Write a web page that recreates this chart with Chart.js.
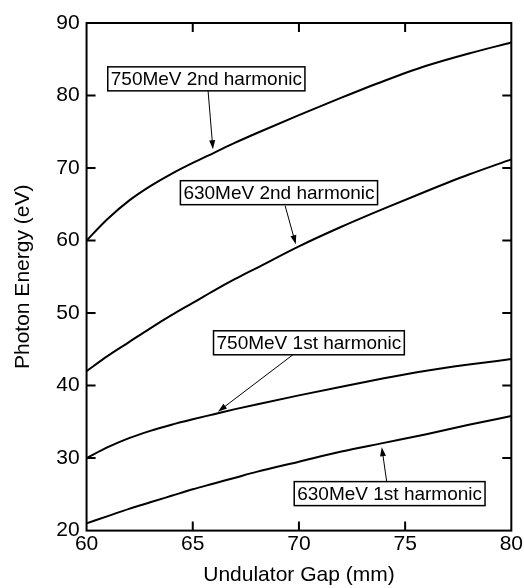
<!DOCTYPE html>
<html>
<head>
<meta charset="utf-8">
<script src="https://cdn.jsdelivr.net/npm/chart.js@4.4.0/dist/chart.umd.min.js"></script>
<style>
    html, body { margin: 0; padding: 0; background: #ffffff; }
    #wrap { width: 524px; height: 588px; }
</style>
</head>
<body>
<div id="wrap"><canvas id="chart" width="524" height="588"></canvas></div>
<script>
// undulator gap (mm)
const gaps = [60, 61, 62, 63, 64, 65, 66, 67, 68, 70, 72, 74, 76, 78, 80];
// photon energy (eV)
const e750h2 = [60.0, 63.0, 65.5, 67.5, 69.2, 70.7, 72.1, 73.5, 74.8, 77.3, 79.7, 82.0, 84.1, 85.8, 87.3];
const e630h2 = [42.0, 44.1, 46.0, 47.9, 49.7, 51.4, 53.1, 54.7, 56.2, 59.2, 61.9, 64.4, 66.8, 69.1, 71.2];
const e750h1 = [30.0, 31.5, 32.75, 33.75, 34.6, 35.35, 36.05, 36.75, 37.4, 38.65, 39.85, 41.0, 42.05, 42.9, 43.65];
const e630h1 = [21.0, 22.0, 23.0, 23.9, 24.8, 25.7, 26.5, 27.3, 28.1, 29.5, 30.9, 32.1, 33.3, 34.6, 35.8];

const seriesNames = ['750MeV 2nd harmonic', '630MeV 2nd harmonic', '750MeV 1st harmonic', '630MeV 1st harmonic'];
const xTicks = [60, 65, 70, 75, 80];
const yTicks = [20, 30, 40, 50, 60, 70, 80, 90];

// callout boxes: centre of box, arrow start, arrow tip (all in data units)
const callouts = [
    { text: seriesNames[0], box: [65.64, 82.3], from: [65.72, 80.7], tip: [65.95, 72.6] },
    { text: seriesNames[1], box: [69.06, 66.6], from: [69.35, 64.8], tip: [69.85, 59.5] },
    { text: seriesNames[2], box: [70.47, 45.9], from: [69.74, 44.3], tip: [66.19, 36.4] },
    { text: seriesNames[3], box: [74.27, 25.1], from: [74.13, 26.8], tip: [73.90, 31.5] }
];

const FONT = '"Liberation Sans", Arial, Helvetica, sans-serif';

function toPoints(ys) {
    return gaps.map((g, i) => ({ x: g, y: ys[i] }));
}

function drawArrow(ctx, x1, y1, x2, y2) {
    const ang = Math.atan2(y2 - y1, x2 - x1);
    const len = 9, half = 3;
    ctx.beginPath();
    ctx.moveTo(x1, y1);
    ctx.lineTo(x2 - Math.cos(ang) * len * 0.6, y2 - Math.sin(ang) * len * 0.6);
    ctx.stroke();
    ctx.beginPath();
    ctx.moveTo(x2, y2);
    ctx.lineTo(x2 - Math.cos(ang) * len - Math.sin(ang) * half, y2 - Math.sin(ang) * len + Math.cos(ang) * half);
    ctx.lineTo(x2 - Math.cos(ang) * len + Math.sin(ang) * half, y2 - Math.sin(ang) * len - Math.cos(ang) * half);
    ctx.closePath();
    ctx.fill();
}

const frameAndLabels = {
    id: 'frameAndLabels',
    afterDatasetsDraw(chart) {
        const ctx = chart.ctx;
        const area = chart.chartArea;
        const xs = chart.scales.x;
        const ys = chart.scales.y;
        ctx.save();

        // frame
        ctx.strokeStyle = '#000';
        ctx.lineWidth = 2;
        ctx.strokeRect(area.left, area.top, area.right - area.left, area.bottom - area.top);

        // inward ticks on all four sides
        const tl = 9;
        ctx.beginPath();
        xTicks.slice(1, -1).forEach(v => {
            const px = xs.getPixelForValue(v);
            ctx.moveTo(px, area.bottom); ctx.lineTo(px, area.bottom - tl);
            ctx.moveTo(px, area.top); ctx.lineTo(px, area.top + tl);
        });
        yTicks.slice(1, -1).forEach(v => {
            const py = ys.getPixelForValue(v);
            ctx.moveTo(area.left, py); ctx.lineTo(area.left + tl, py);
            ctx.moveTo(area.right, py); ctx.lineTo(area.right - tl, py);
        });
        ctx.stroke();

        // callouts
        ctx.font = '19px ' + FONT;
        ctx.textBaseline = 'middle';
        ctx.textAlign = 'center';
        callouts.forEach(c => {
            ctx.lineWidth = 1;
            ctx.fillStyle = '#000';
            drawArrow(ctx,
                xs.getPixelForValue(c.from[0]), ys.getPixelForValue(c.from[1]),
                xs.getPixelForValue(c.tip[0]), ys.getPixelForValue(c.tip[1]));

            const cx = xs.getPixelForValue(c.box[0]);
            const cy = ys.getPixelForValue(c.box[1]);
            const w = ctx.measureText(c.text).width + 6;
            const h = 24;
            ctx.fillStyle = '#fff';
            ctx.fillRect(cx - w / 2, cy - h / 2, w, h);
            ctx.lineWidth = 1.5;
            ctx.strokeRect(cx - w / 2, cy - h / 2, w, h);
            ctx.fillStyle = '#000';
            ctx.fillText(c.text, cx, cy + 1);
        });
        ctx.restore();
    }
};

const lineStyle = {
    borderColor: '#000',
    borderWidth: 2,
    pointRadius: 0,
    fill: false,
    cubicInterpolationMode: 'monotone'
};

new Chart(document.getElementById('chart').getContext('2d'), {
    type: 'line',
    data: {
        datasets: [
            { label: seriesNames[0], data: toPoints(e750h2), ...lineStyle },
            { label: seriesNames[1], data: toPoints(e630h2), ...lineStyle },
            { label: seriesNames[2], data: toPoints(e750h1), ...lineStyle },
            { label: seriesNames[3], data: toPoints(e630h1), ...lineStyle }
        ]
    },
    options: {
        responsive: false,
        animation: false,
        layout: {
            padding: { left: 11, right: 2, top: 23, bottom: 0 }
        },
        plugins: {
            legend: { display: false },
            tooltip: { enabled: false }
        },
        scales: {
            x: {
                type: 'linear',
                min: 60,
                max: 80,
                grid: { display: false, drawTicks: false },
                border: { display: false },
                ticks: {
                    stepSize: 5,
                    color: '#000',
                    padding: 1,
                    font: { family: FONT, size: 21 }
                },
                title: {
                    display: true,
                    text: 'Undulator Gap (mm)',
                    color: '#000',
                    padding: { top: 5, bottom: 0 },
                    font: { family: FONT, size: 21 }
                }
            },
            y: {
                min: 20,
                max: 90,
                grid: { display: false, drawTicks: false },
                border: { display: false },
                ticks: {
                    stepSize: 10,
                    color: '#000',
                    padding: 7,
                    font: { family: FONT, size: 21 }
                },
                title: {
                    display: true,
                    text: 'Photon Energy (eV)',
                    color: '#000',
                    padding: { top: 0, bottom: 13 },
                    font: { family: FONT, size: 21 }
                }
            }
        }
    },
    plugins: [frameAndLabels]
});
</script>
</body>
</html>
